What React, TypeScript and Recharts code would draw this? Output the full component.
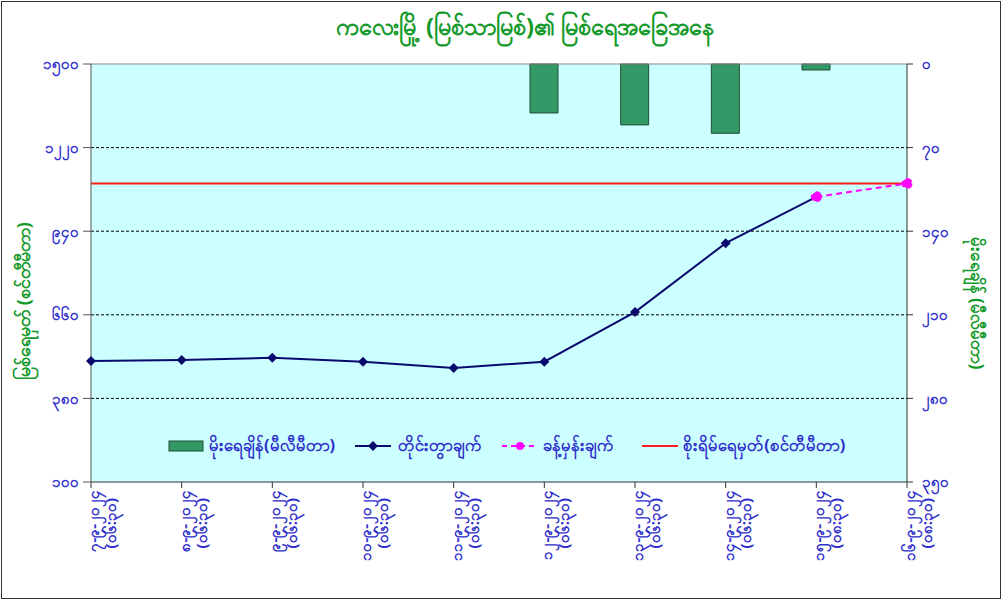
import React from "react";
import {
  ComposedChart,
  Bar,
  Line,
  XAxis,
  YAxis,
  CartesianGrid,
  ReferenceLine,
} from "recharts";

// ---- data ----
const dates = [
  "၇-၉-၂၀၂၄",
  "၈-၉-၂၀၂၄",
  "၉-၉-၂၀၂၄",
  "၁၀-၉-၂၀၂၄",
  "၁၁-၉-၂၀၂၄",
  "၁၂-၉-၂၀၂၄",
  "၁၃-၉-၂၀၂၄",
  "၁၄-၉-၂၀၂၄",
  "၁၅-၉-၂၀၂၄",
  "၁၆-၉-၂၀၂၄",
];
const times = [
  "(၀၆:၃၀)",
  "(၀၆:၃၀)",
  "(၀၆:၃၀)",
  "(၀၆:၃၀)",
  "(၀၆:၃၀)",
  "(၀၆:၃၀)",
  "(၀၆:၃၀)",
  "(၀၆:၃၀)",
  "(၀၈:၃၀)",
  "(၀၈:၃၀)",
];
const rainfall = [null, null, null, null, null, 41, 51, 58, 5, null];
const measured = [505, 509, 516, 503, 482, 503, 669, 900, 1055, null];
const forecast = [null, null, null, null, null, null, null, null, 1055, 1100];
const dangerLevel = [1100, 1100, 1100, 1100, 1100, 1100, 1100, 1100, 1100, 1100];

const leftTicks = [100, 380, 660, 940, 1220, 1500];
const leftTickLabels = ["၁၀၀", "၃၈၀", "၆၆၀", "၉၄၀", "၁၂၂၀", "၁၅၀၀"];
const rightTicks = [0, 70, 140, 210, 280, 350];
const rightTickLabels = ["၀", "၇၀", "၁၄၀", "၂၁၀", "၂၈၀", "၃၅၀"];

const title = "ကလေးမြို့ (မြစ်သာမြစ်)၏ မြစ်ရေအခြေအနေ";
const leftTitle = "မြစ်ရေမှတ် (စင်တီမီတာ)";
const rightTitle = "မိုးရေချိန် (မီလီမီတာ)";
const names = {
  rain: "မိုးရေချိန်(မီလီမီတာ)",
  measured: "တိုင်းတွာချက်",
  forecast: "ခန့်မှန်းချက်",
  danger: "စိုးရိမ်ရေမှတ်(စင်တီမီတာ)",
};

const data = dates.map((d, i) => ({
  i,
  rain: rainfall[i],
  measured: measured[i],
  forecast: forecast[i],
  danger: dangerLevel[i],
}));

const FONT = "'Noto Sans', 'DejaVu Sans', sans-serif";
const BLUE = "#3030cc";
const GREEN = "#139a2a";
const NAVY = "#0a0a6e";
const MAGENTA = "#ff00ff";
const RED = "#ff1a1a";
const BAR = "#339966";

const DateTick = (props: any) => {
  const { x, y, payload } = props;
  const i = payload.value;
  return (
    <g transform={`translate(${x},${y})`}>
      <text
        transform="rotate(-90)"
        textAnchor="end"
        fill={BLUE}
        fontSize={15}
        fontWeight="bold"
        fontFamily={FONT}
      >
        <tspan x={0} y={8}>
          {dates[i]}
        </tspan>
        <tspan x={-8} y={25}>
          {times[i]}
        </tspan>
      </text>
    </g>
  );
};

const Diamond = (props: any) => {
  const { cx, cy, value, index } = props;
  if (value == null || cx == null) return <g key={`d-${index}`} />;
  return (
    <path
      key={`d-${index}`}
      d={`M${cx},${cy - 5} L${cx + 5},${cy} L${cx},${cy + 5} L${cx - 5},${cy} Z`}
      fill={NAVY}
    />
  );
};

const LegendBox = () => (
  <div
    style={{
      display: "flex",
      alignItems: "center",
      gap: 20,
      fontFamily: FONT,
      fontSize: 16.5,
      fontWeight: "bold",
      color: BLUE,
      whiteSpace: "nowrap",
    }}
  >
    <span style={{ display: "flex", alignItems: "center", gap: 5 }}>
      <svg width={36} height={12}>
        <rect x={1} y={1} width={34} height={10} fill={BAR} stroke="#1d4d33" />
      </svg>
      {names.rain}
    </span>
    <span style={{ display: "flex", alignItems: "center", gap: 7 }}>
      <svg width={36} height={12}>
        <line x1={0} y1={6} x2={36} y2={6} stroke={NAVY} strokeWidth={2} />
        <path d="M18,1 L23,6 L18,11 L13,6 Z" fill={NAVY} />
      </svg>
      {names.measured}
    </span>
    <span style={{ display: "flex", alignItems: "center", gap: 5 }}>
      <svg width={36} height={12}>
        <line x1={0} y1={6} x2={36} y2={6} stroke={MAGENTA} strokeWidth={2} strokeDasharray="5 4" />
        <circle cx={18} cy={6} r={4} fill={MAGENTA} />
      </svg>
      {names.forecast}
    </span>
    <span style={{ display: "flex", alignItems: "center", gap: 5, marginLeft: 8 }}>
      <svg width={36} height={12}>
        <line x1={0} y1={6} x2={36} y2={6} stroke={RED} strokeWidth={2} />
      </svg>
      {names.danger}
    </span>
  </div>
);

export default function App() {
  return (
    <div
      style={{
        position: "absolute",
        left: 0,
        top: 0,
        width: 1004,
        height: 602,
        background: "#fff",
        fontFamily: FONT,
      }}
    >
      <div
        style={{
          position: "absolute",
          left: 1,
          top: 1,
          width: 998,
          height: 596,
          border: "1px solid #333",
        }}
      />
      <div
        style={{
          position: "absolute",
          left: 0,
          width: 1050,
          top: 10,
          textAlign: "center",
          color: GREEN,
          fontSize: 23.5,
          fontWeight: "bold",
        }}
      >
        {title}
      </div>
      <div
        style={{
          position: "absolute",
          left: 25,
          top: 301,
          transform: "translate(-50%, -50%) rotate(-90deg)",
          whiteSpace: "nowrap",
          color: GREEN,
          fontSize: 18,
          fontWeight: "bold",
        }}
      >
        {leftTitle}
      </div>
      <div
        style={{
          position: "absolute",
          left: 976,
          top: 303,
          transform: "translate(-50%, -50%) rotate(90deg)",
          whiteSpace: "nowrap",
          color: GREEN,
          fontSize: 17,
          fontWeight: "bold",
        }}
      >
        {rightTitle}
      </div>
      <div style={{ position: "absolute", left: 1, top: 1 }}>
        <ComposedChart
          width={1000}
          height={598}
          data={data}
          margin={{ top: 63, right: 0, bottom: 0, left: 0 }}
        >
          <CartesianGrid
            yAxisId="left"
            vertical={false}
            horizontalValues={[380, 660, 940, 1220]}
            stroke="#000"
            strokeDasharray="3 2"
            fill="#ccffff"
            fillOpacity={1}
          />
          <XAxis
            dataKey="i"
            type="number"
            domain={[0, 9]}
            ticks={[0, 1, 2, 3, 4, 5, 6, 7, 8, 9]}
            allowDecimals={false}
            height={117}
            tick={<DateTick />}
            tickSize={6}
            axisLine={{ stroke: "#333" }}
            tickLine={{ stroke: "#333" }}
            interval={0}
          />
          <YAxis
            yAxisId="left"
            domain={[100, 1500]}
            ticks={leftTicks}
            tickFormatter={(v: number) => leftTickLabels[leftTicks.indexOf(v)]}
            width={90}
            tickSize={8}
            tickMargin={4}
            axisLine={{ stroke: "#555" }}
            tickLine={{ stroke: "#555" }}
            tick={{ fill: BLUE, fontSize: 15, fontWeight: "bold", fontFamily: FONT }}
            interval={0}
          />
          <YAxis
            yAxisId="right"
            orientation="right"
            reversed
            domain={[0, 350]}
            ticks={rightTicks}
            tickFormatter={(v: number) => rightTickLabels[rightTicks.indexOf(v)]}
            width={94}
            tickSize={6}
            tickMargin={9}
            axisLine={{ stroke: "#333" }}
            tickLine={{ stroke: "#333" }}
            tick={{ fill: BLUE, fontSize: 15, fontWeight: "bold", fontFamily: FONT, textAnchor: "start" }}
            interval={0}
          />
          <ReferenceLine yAxisId="left" y={1500} stroke="#888" strokeWidth={1} />
          <Bar
            yAxisId="right"
            dataKey="rain"
            name={names.rain}
            fill={BAR}
            stroke="#1d4d33"
            strokeWidth={1}
            barSize={28}
            isAnimationActive={false}
          />
          <Line
            yAxisId="left"
            dataKey="danger"
            name={names.danger}
            stroke={RED}
            strokeWidth={2}
            dot={false}
            activeDot={false}
            isAnimationActive={false}
          />
          <Line
            yAxisId="left"
            dataKey="measured"
            name={names.measured}
            stroke={NAVY}
            strokeWidth={2}
            dot={<Diamond />}
            activeDot={false}
            isAnimationActive={false}
          />
          <Line
            yAxisId="left"
            dataKey="forecast"
            name={names.forecast}
            stroke={MAGENTA}
            strokeWidth={2}
            strokeDasharray="6 4"
            dot={{ r: 4.5, fill: MAGENTA, stroke: MAGENTA }}
            activeDot={false}
            isAnimationActive={false}
          />
        </ComposedChart>
      </div>
      <div style={{ position: "absolute", left: 168, top: 433 }}>
        <LegendBox />
      </div>
    </div>
  );
}
